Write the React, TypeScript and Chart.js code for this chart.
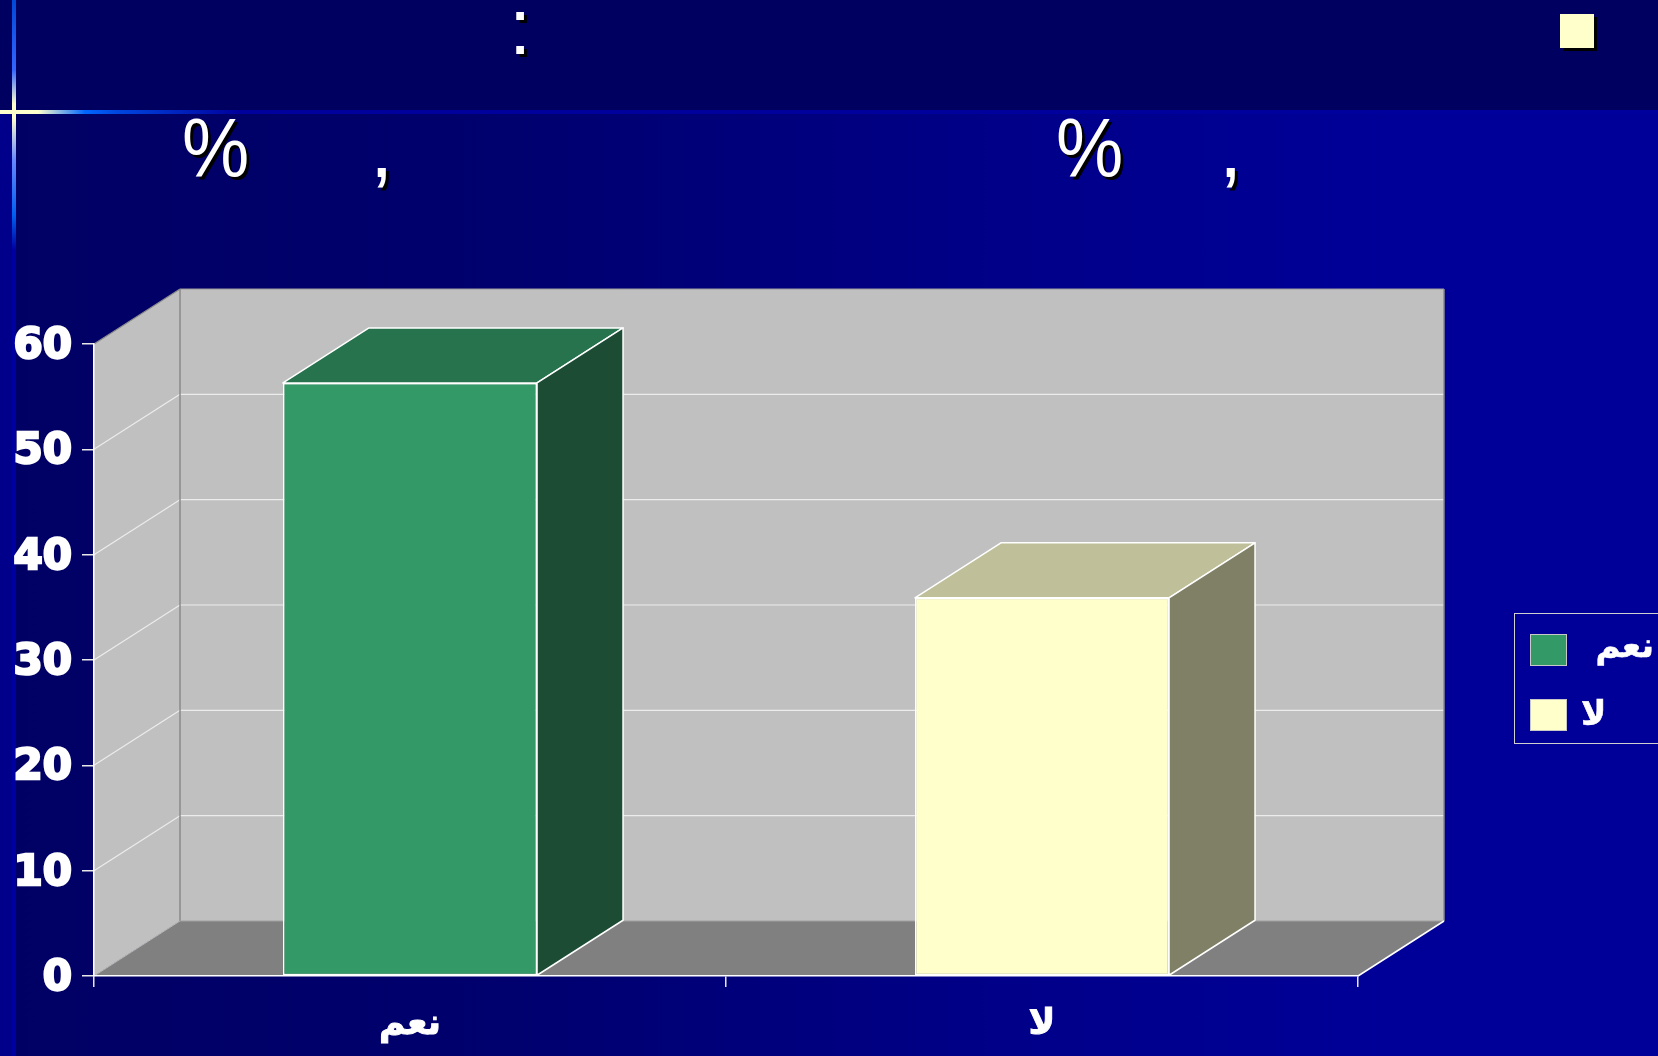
import React, { useEffect, useRef } from "react";
import { Chart, registerables } from "chart.js";

Chart.register(...registerables);

// ---- data ----
const categories = ["نعم", "لا"];
const values = [56.3, 35.9];
const frontColors = ["#339966", "#ffffcc"];
const topColors = ["#26734d", "#bfbf99"];
const sideColors = ["#1c4c33", "#808066"];
const yTickValues = [0, 10, 20, 30, 40, 50, 60];
const legendLabels = ["نعم", "لا"];

const W = 1658;
const H = 1056;
const DX = 86;
const DY = -55;

function poly(ctx: CanvasRenderingContext2D, pts: number[][], fill?: string, stroke?: string, lw = 1) {
  ctx.beginPath();
  ctx.moveTo(pts[0][0], pts[0][1]);
  for (let i = 1; i < pts.length; i++) ctx.lineTo(pts[i][0], pts[i][1]);
  ctx.closePath();
  if (fill) {
    ctx.fillStyle = fill;
    ctx.fill();
  }
  if (stroke) {
    ctx.strokeStyle = stroke;
    ctx.lineWidth = lw;
    ctx.stroke();
  }
}

function line(ctx: CanvasRenderingContext2D, x1: number, y1: number, x2: number, y2: number, color: string, lw = 1) {
  ctx.beginPath();
  ctx.moveTo(x1, y1);
  ctx.lineTo(x2, y2);
  ctx.strokeStyle = color;
  ctx.lineWidth = lw;
  ctx.stroke();
}

const threeDPlugin = {
  id: "threeD",
  beforeDraw(chart: any) {
    const ctx: CanvasRenderingContext2D = chart.ctx;
    const xs = chart.scales.x;
    const ys = chart.scales.y;
    const L = xs.left;
    const R = xs.right;
    const y0 = ys.getPixelForValue(yTickValues[0]);
    const yT = ys.getPixelForValue(yTickValues[yTickValues.length - 1]);
    ctx.save();
    // back wall
    poly(ctx, [[L + DX, yT + DY], [R + DX, yT + DY], [R + DX, y0 + DY], [L + DX, y0 + DY]], "#c0c0c0");
    // side wall
    poly(ctx, [[L, y0], [L + DX, y0 + DY], [L + DX, yT + DY], [L, yT]], "#c0c0c0");
    // floor
    poly(ctx, [[L, y0], [R, y0], [R + DX, y0 + DY], [L + DX, y0 + DY]], "#808080");
    // grid lines
    yTickValues.forEach((v, i) => {
      if (i === 0 || i === yTickValues.length - 1) return;
      const py = ys.getPixelForValue(v);
      line(ctx, L + DX, py + DY, R + DX, py + DY, "#ececec", 1.2);
      line(ctx, L, py, L + DX, py + DY, "#ececec", 1.2);
    });
    // wall edges
    line(ctx, L + DX, yT + DY, R + DX, yT + DY, "#9a9a9a", 1.2);
    line(ctx, R + DX, yT + DY, R + DX, y0 + DY, "#8a8a8a", 1.5);
    line(ctx, L + DX, yT + DY, L + DX, y0 + DY, "#8a8a8a", 1.5);
    line(ctx, L + DX, y0 + DY, R + DX, y0 + DY, "#a0a0a0", 1.2);
    line(ctx, L, yT, L + DX, yT + DY, "#8a8a8a", 1.2);
    line(ctx, L, y0, L + DX, y0 + DY, "#b8b8b8", 1);
    line(ctx, R, y0, R + DX, y0 + DY, "#ffffff", 1.5);
    ctx.restore();
  },
  afterDatasetsDraw(chart: any) {
    const ctx: CanvasRenderingContext2D = chart.ctx;
    const meta = chart.getDatasetMeta(0);
    ctx.save();
    ctx.lineJoin = "round";
    meta.data.forEach((el: any, i: number) => {
      const w = el.width;
      const left = el.x - w / 2;
      const right = el.x + w / 2;
      const top = el.y;
      const base = el.base;
      poly(ctx, [[left, top], [right, top], [right + DX, top + DY], [left + DX, top + DY]], topColors[i], "#ffffff", 1.5);
      poly(ctx, [[right, top], [right + DX, top + DY], [right + DX, base + DY], [right, base]], sideColors[i], "#ffffff", 1.5);
    });
    ctx.restore();
  },
};

function ChartCanvas() {
  const ref = useRef<HTMLCanvasElement | null>(null);
  useEffect(() => {
    if (!ref.current) return;
    const chart = new Chart(ref.current, {
      type: "bar",
      data: {
        labels: categories,
        datasets: [
          {
            data: values,
            backgroundColor: frontColors,
            borderColor: "#ffffff",
            borderWidth: 1.5,
            borderSkipped: false,
            categoryPercentage: 1,
            barPercentage: 0.402,
          },
        ],
      },
      options: {
        responsive: false,
        maintainAspectRatio: false,
        animation: false,
        layout: { padding: { top: 344, right: 300, left: 0, bottom: 0 } },
        plugins: { legend: { display: false }, tooltip: { enabled: false } },
        scales: {
          x: {
            offset: true,
            grid: { offset: true, drawOnChartArea: false, drawTicks: true, tickLength: 11, color: "#e8e8e8", lineWidth: 1.5 },
            border: { display: true, color: "#ffffff", width: 1.5 },
            ticks: {
              color: "#ffffff",
              font: { family: "DejaVu Sans", size: 36, weight: "bold" },
              textStrokeColor: "#ffffff",
              textStrokeWidth: 1,
              padding: 16,
              maxRotation: 0,
            },
            afterFit: (s: any) => {
              s.height = H - 976;
            },
          },
          y: {
            min: 0,
            max: 60,
            grid: { drawOnChartArea: false, drawTicks: true, tickLength: 12, color: "#e8e8e8", lineWidth: 1.5 },
            border: { display: true, color: "#ffffff", width: 1.5 },
            ticks: {
              stepSize: 10,
              color: "#ffffff",
              font: { family: "DejaVu Sans", size: 42, weight: "bold" },
              textStrokeColor: "#ffffff",
              textStrokeWidth: 2.5,
              labelOffset: 3,
              padding: 10,
            },
            afterFit: (s: any) => {
              s.width = 94;
            },
          },
        },
      },
      plugins: [threeDPlugin],
    } as any);
    return () => chart.destroy();
  }, []);
  return <canvas ref={ref} width={W} height={H} style={{ position: "absolute", left: 0, top: 0, width: W, height: H }} />;
}

const titleStyle: React.CSSProperties = {
  position: "absolute",
  fontFamily: "'Liberation Sans', Arial, sans-serif",
  fontSize: 84,
  lineHeight: 1,
  color: "#ffffff",
  textShadow: "3px 3px 0 #000000",
  whiteSpace: "nowrap",
};

const legendText: React.CSSProperties = {
  position: "absolute",
  fontFamily: "'DejaVu Sans', sans-serif",
  fontWeight: "bold",
  fontSize: 34,
  lineHeight: 1,
  color: "#ffffff",
  whiteSpace: "nowrap",
  WebkitTextStroke: "0.6px #ffffff",
};

export default function App() {
  return (
    <div
      style={{
        position: "fixed",
        left: 0,
        top: 0,
        width: W,
        height: H,
        overflow: "hidden",
        background: "linear-gradient(to right, #000064 0%, #00006e 30%, #000088 60%, #000099 85%, #000099 100%)",
      }}
    >
      {/* top band */}
      <div style={{ position: "absolute", left: 0, top: 0, width: W, height: 114, background: "#000060" }} />
      {/* left strip */}
      <div style={{ position: "absolute", left: 0, top: 114, width: 12, height: H - 114, background: "#00008a" }} />
      {/* vertical line */}
      <div
        style={{
          position: "absolute",
          left: 12,
          top: 0,
          width: 4,
          height: H,
          background:
            "linear-gradient(to bottom, #0048d8 0px, #3366ff 70px, #ffffcc 104px, #ffffcc 118px, #6688ff 160px, #0060f0 215px, #0000a0 250px, #0000a0 1056px)",
        }}
      />
      {/* horizontal line */}
      <div
        style={{
          position: "absolute",
          left: 0,
          top: 110,
          width: W,
          height: 4,
          background:
            "linear-gradient(to right, #ffffcc 0px, #ffffcc 38px, #0066ff 85px, #0044dd 120px, #00009c 240px, #00009c 1658px)",
        }}
      />
      {/* bullet */}
      <div style={{ position: "absolute", left: 1560, top: 14, width: 34, height: 34, background: "#ffffcc", boxShadow: "3px 3px 0 #000000" }} />
      {/* title fragments */}
      <div style={{ ...titleStyle, left: 509, top: -13, fontSize: 80 }}>:</div>
      <div style={{ ...titleStyle, left: 182, top: 106, transform: "scaleX(0.9)", transformOrigin: "left top" }}>%</div>
      <div style={{ ...titleStyle, left: 370, top: 106 }}>,</div>
      <div style={{ ...titleStyle, left: 1056, top: 106, transform: "scaleX(0.9)", transformOrigin: "left top" }}>%</div>
      <div style={{ ...titleStyle, left: 1219, top: 106 }}>,</div>

      <ChartCanvas />

      {/* legend */}
      <div style={{ position: "absolute", left: 1514, top: 613, width: 200, height: 129, border: "1.5px solid #d0d0d0" }} />
      <div style={{ position: "absolute", left: 1530, top: 634, width: 35, height: 30, background: frontColors[0], border: "1px solid #c8c8c8" }} />
      <div style={{ position: "absolute", left: 1530, top: 699, width: 35, height: 30, background: frontColors[1], border: "1px solid #c8c8c8" }} />
      <div style={{ ...legendText, right: W - 1654, top: 628, textAlign: "right" }}>{legendLabels[0]}</div>
      <div style={{ ...legendText, left: 1581, top: 696 }}>{legendLabels[1]}</div>
    </div>
  );
}
